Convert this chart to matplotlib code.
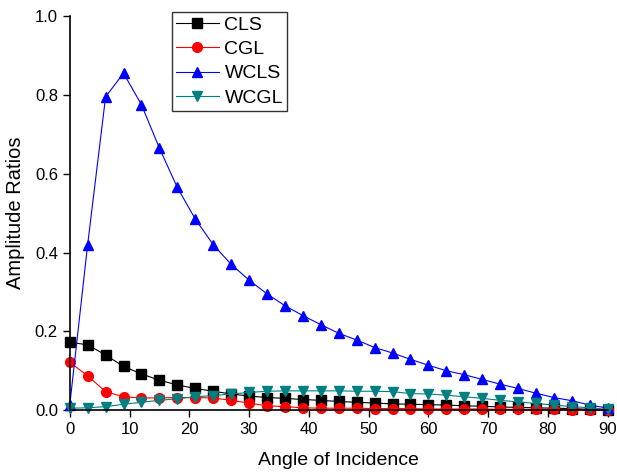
import numpy as np
import matplotlib
matplotlib.use('Agg')
import matplotlib.pyplot as plt

# angle of incidence (deg)
angles = list(range(0, 91, 3))

cls = [0.172, 0.166, 0.140, 0.111, 0.092, 0.076, 0.064, 0.055, 0.048, 0.041,
       0.036, 0.032, 0.030, 0.027, 0.025, 0.022, 0.020, 0.018, 0.016, 0.015,
       0.014, 0.013, 0.011, 0.010, 0.008, 0.007, 0.006, 0.005, 0.004, 0.002, 0.000]
cgl = [0.122, 0.087, 0.047, 0.034, 0.031, 0.031, 0.032, 0.032, 0.031, 0.025,
       0.018, 0.011, 0.009, 0.006, 0.005, 0.005, 0.005, 0.004, 0.004, 0.004,
       0.003, 0.003, 0.003, 0.003, 0.002, 0.002, 0.002, 0.002, 0.001, 0.001, 0.000]
wcls = [0.012, 0.420, 0.795, 0.855, 0.775, 0.665, 0.565, 0.485, 0.420, 0.370,
        0.330, 0.295, 0.265, 0.240, 0.217, 0.195, 0.178, 0.159, 0.145, 0.129,
        0.114, 0.100, 0.090, 0.078, 0.066, 0.055, 0.043, 0.032, 0.024, 0.013, 0.005]
wcgl = [0.005, 0.006, 0.009, 0.015, 0.020, 0.025, 0.029, 0.034, 0.037, 0.041,
        0.045, 0.048, 0.049, 0.049, 0.049, 0.049, 0.048, 0.048, 0.047, 0.042,
        0.041, 0.038, 0.034, 0.030, 0.025, 0.021, 0.017, 0.013, 0.009, 0.006, 0.002]

SERIES = [
    ('CLS',  cls,  'black',   's'),
    ('CGL',  cgl,  'red',     'o'),
    ('WCLS', wcls, 'blue',    '^'),
    ('WCGL', wcgl, '#008080', 'v'),
]

plt.rcParams.update({
    'font.family': ['Liberation Sans', 'DejaVu Sans'],
    'font.size': 12,
})

fig = plt.figure(figsize=(6.17, 4.72), dpi=100, facecolor='white')
ax = fig.add_axes([0.113, 0.131, 0.872, 0.835])

for label, vals, color, marker in SERIES:
    ax.plot(angles, vals, color=color, marker=marker, markersize=7,
            linewidth=0.8, label=label, clip_on=False)

ax.set_xlim(0, 90)
ax.set_ylim(0, 1.0)
ax.set_xticks(np.arange(0, 91, 10))
ax.set_yticks(np.arange(0, 1.01, 0.2))
ax.yaxis.set_major_formatter(matplotlib.ticker.FormatStrFormatter('%.1f'))
ax.tick_params(direction='out', length=5, width=1, labelsize=12)

ax.spines['top'].set_visible(False)
ax.spines['right'].set_visible(False)
ax.spines['left'].set_linewidth(1.2)
ax.spines['bottom'].set_linewidth(1.2)

ax.set_xlabel('Angle of Incidence', fontsize=14, labelpad=11)
ax.set_ylabel('Amplitude Ratios', fontsize=14.5, labelpad=7)

leg = ax.legend(loc='upper left', bbox_to_anchor=(0.19, 1.01), fontsize=14,
                frameon=True, fancybox=False, edgecolor='black',
                handlelength=2.2, handletextpad=0.3, borderpad=0.2,
                labelspacing=0.35, borderaxespad=0)
leg.get_frame().set_linewidth(1.0)

fig.savefig('out.png', dpi=100, facecolor='white')
